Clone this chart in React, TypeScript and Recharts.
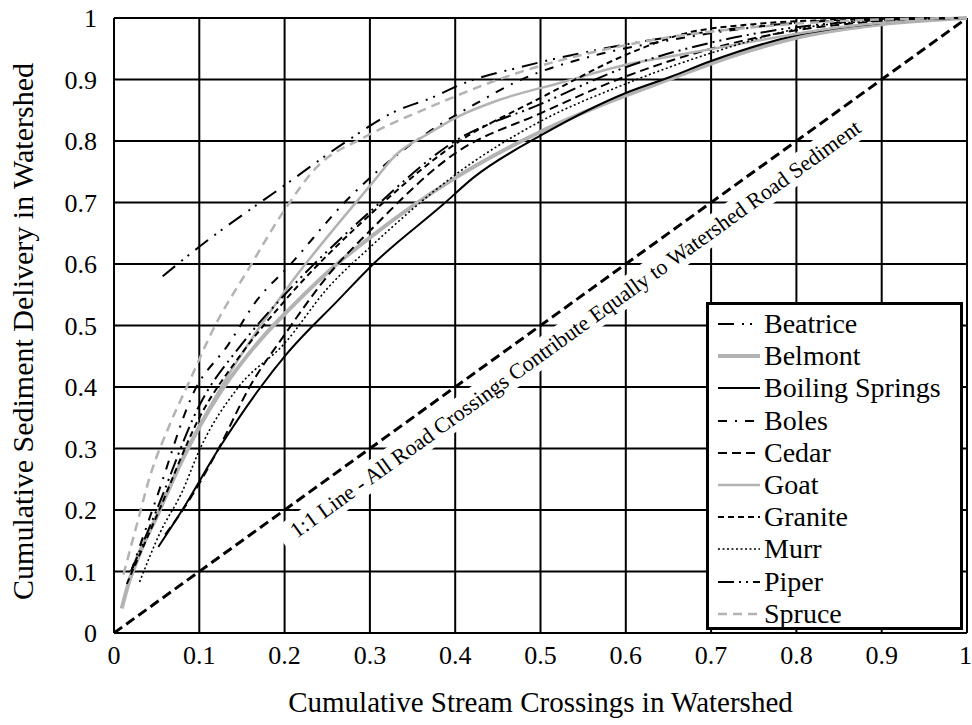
import React from "react";
import {
    LineChart,
    Line,
    XAxis,
    YAxis,
    CartesianGrid,
    ReferenceLine,
    Legend,
} from "recharts";

// axis ticks, both axes 0..1 in steps of 0.1
const xTicks = [0, 0.1, 0.2, 0.3, 0.4, 0.5, 0.6, 0.7, 0.8, 0.9, 1];
const yTicks = [0, 0.1, 0.2, 0.3, 0.4, 0.5, 0.6, 0.7, 0.8, 0.9, 1];

// cumulative stream crossings (x) vs cumulative sediment delivery (y)
const beatrice = [
    [0.057, 0.58], [0.1, 0.628], [0.2, 0.728], [0.27, 0.797], [0.331, 0.849],
    [0.37, 0.869], [0.414, 0.896], [0.476, 0.92], [0.566, 0.948], [0.652, 0.969],
    [0.75, 0.986], [0.85, 0.996], [1, 1],
];
const belmont = [
    [0.009, 0.04], [0.019, 0.09], [0.052, 0.195], [0.082, 0.287], [0.1, 0.335],
    [0.124, 0.39], [0.15, 0.44], [0.175, 0.482], [0.206, 0.527], [0.253, 0.59],
    [0.3, 0.643], [0.4, 0.74], [0.5, 0.815], [0.55, 0.846], [0.6, 0.874],
    [0.65, 0.9], [0.7, 0.926], [0.75, 0.949], [0.8, 0.968], [0.9, 0.99], [1, 1],
];
const boilingSprings = [
    [0.052, 0.14], [0.08, 0.2], [0.123, 0.3], [0.172, 0.4], [0.202, 0.453],
    [0.262, 0.54], [0.304, 0.6], [0.386, 0.697], [0.421, 0.74], [0.503, 0.811],
    [0.6, 0.878], [0.652, 0.904], [0.7, 0.93], [0.8, 0.972], [0.9, 0.992], [1, 1],
];
const boles = [
    [0.02, 0.1], [0.05, 0.22], [0.093, 0.39], [0.134, 0.469], [0.168, 0.542],
    [0.204, 0.595], [0.273, 0.704], [0.3, 0.74], [0.386, 0.83], [0.417, 0.855],
    [0.476, 0.899], [0.566, 0.94], [0.652, 0.964], [0.75, 0.985], [0.85, 0.996], [1, 1],
];
const cedar = [
    [0.06, 0.16], [0.083, 0.205], [0.122, 0.298], [0.159, 0.4], [0.2, 0.485],
    [0.253, 0.585], [0.3, 0.654], [0.4, 0.78], [0.5, 0.845], [0.6, 0.905],
    [0.7, 0.95], [0.8, 0.98], [0.9, 0.995], [1, 1],
];
const goat = [
    [0.012, 0.06], [0.04, 0.16], [0.086, 0.3], [0.13, 0.41], [0.172, 0.5],
    [0.21, 0.574], [0.253, 0.649], [0.3, 0.727], [0.331, 0.778], [0.37, 0.813],
    [0.401, 0.838], [0.448, 0.865], [0.527, 0.896], [0.6, 0.924], [0.65, 0.937],
    [0.75, 0.962], [0.85, 0.985], [1, 1],
];
const granite = [
    [0.015, 0.08], [0.05, 0.19], [0.1, 0.35], [0.15, 0.455], [0.2, 0.54],
    [0.3, 0.68], [0.4, 0.795], [0.5, 0.87], [0.6, 0.94], [0.67, 0.975],
    [0.75, 0.99], [0.85, 0.997], [1, 1],
];
const murr = [
    [0.03, 0.083], [0.054, 0.163], [0.08, 0.23], [0.101, 0.3], [0.146, 0.4],
    [0.2, 0.471], [0.25, 0.56], [0.3, 0.627], [0.4, 0.745], [0.5, 0.832],
    [0.6, 0.893], [0.7, 0.943], [0.8, 0.982], [0.9, 0.996], [1, 1],
];
const piper = [
    [0.02, 0.1], [0.05, 0.2], [0.1, 0.37], [0.15, 0.47], [0.2, 0.55],
    [0.3, 0.685], [0.4, 0.8], [0.5, 0.86], [0.6, 0.92], [0.7, 0.96],
    [0.8, 0.985], [0.9, 0.997], [1, 1],
];
const spruce = [
    [0.011, 0.095], [0.025, 0.167], [0.042, 0.254], [0.066, 0.341], [0.089, 0.411],
    [0.116, 0.493], [0.159, 0.595], [0.2, 0.688], [0.238, 0.758], [0.292, 0.805],
    [0.37, 0.855], [0.476, 0.912], [0.573, 0.948], [0.652, 0.969], [0.75, 0.985],
    [0.85, 0.995], [1, 1],
];
const oneToOne = [[0, 0], [1, 1]];

const FONT = '"Liberation Serif", "Times New Roman", Times, serif';
const GREY = "#b3b3b3";

const toPts = (arr: number[][]) => arr.map(([x, y]) => ({ x, y }));

const series = [
    { name: "Beatrice", data: beatrice, color: "#000", width: 2, dash: "16 8 2 6 2 8" },
    { name: "Belmont", data: belmont, color: GREY, width: 4, dash: undefined },
    { name: "Boiling Springs", data: boilingSprings, color: "#000", width: 2, dash: undefined },
    { name: "Boles", data: boles, color: "#000", width: 2, dash: "9 8 2 8" },
    { name: "Cedar", data: cedar, color: "#000", width: 2, dash: "9 5" },
    { name: "Goat", data: goat, color: GREY, width: 2.5, dash: undefined },
    { name: "Granite", data: granite, color: "#000", width: 2, dash: "6 4" },
    { name: "Murr", data: murr, color: "#000", width: 1.6, dash: "2 2.5" },
    { name: "Piper", data: piper, color: "#000", width: 2, dash: "16 5 2 5 2 5" },
    { name: "Spruce", data: spruce, color: GREY, width: 2.5, dash: "9 6" },
];

const fmt = (v: number) => (v === 0 || v === 1 ? String(v) : v.toFixed(1));

const LegendBox = () => (
    <div
        style={{
            width: 251,
            height: 319,
            border: "3px solid #000",
            background: "#fff",
            fontFamily: FONT,
            fontSize: 28,
            color: "#000",
            paddingTop: 3,
            boxSizing: "content-box",
        }}
    >
        {series.map((s) => (
            <div key={s.name} style={{ height: 32.2, display: "flex", alignItems: "center" }}>
                <svg width={55} height={20} style={{ flex: "none" }}>
                    <line
                        x1={9}
                        x2={51}
                        y1={10}
                        y2={10}
                        stroke={s.color}
                        strokeWidth={s.width}
                        strokeDasharray={s.dash}
                    />
                </svg>
                <span style={{ lineHeight: "28px", whiteSpace: "nowrap" }}>{s.name}</span>
            </div>
        ))}
    </div>
);

// rotated caption with white backing along the 1:1 line
const DiagonalLabel = (props: any) => {
    const vb = props.viewBox || {};
    let x0 = vb.x, y0 = vb.y, w = vb.width, h = vb.height;
    if (vb.x1 !== undefined) {
        x0 = Math.min(vb.x1, vb.x2);
        y0 = Math.min(vb.y1, vb.y2);
        w = Math.abs(vb.x2 - vb.x1);
        h = Math.abs(vb.y2 - vb.y1);
    }
    const rad = Math.atan2(h, w);
    const t = 0.525;
    const off = 23;
    const cx = x0 + w * t + off * Math.sin(rad);
    const cy = y0 + h * (1 - t) + off * Math.cos(rad);
    return (
        <g transform={`translate(${cx},${cy}) rotate(${(-rad * 180) / Math.PI})`}>
            <rect x={-362} y={-14} width={724} height={28} fill="#fff" />
            <text
                x={0}
                y={0}
                textAnchor="middle"
                dominantBaseline="central"
                fontFamily={FONT}
                fontSize={22}
                fill="#000"
            >
                1:1 Line - All Road Crossings Contribute Equally to Watershed Road Sediment
            </text>
        </g>
    );
};

const YTitle = (props: any) => {
    const vb = props.viewBox;
    const x = vb.x + 22;
    const y = vb.y + vb.height / 2 + 6;
    return (
        <text
            x={x}
            y={y}
            transform={`rotate(-90 ${x} ${y})`}
            textAnchor="middle"
            dominantBaseline="central"
            fontFamily={FONT}
            fontSize={30}
            fill="#000"
        >
            Cumulative Sediment Delivery in Watershed
        </text>
    );
};

const XTitle = (props: any) => {
    const vb = props.viewBox;
    return (
        <text
            x={vb.x + vb.width / 2}
            y={vb.y + vb.height - 13}
            textAnchor="middle"
            fontFamily={FONT}
            fontSize={29}
            fill="#000"
        >
            Cumulative Stream Crossings in Watershed
        </text>
    );
};

const App = () => {
    const tickStyle = { fill: "#000", fontSize: 26, fontFamily: FONT };
    return (
        <div style={{ position: "absolute", left: 0, top: 0, background: "#fff" }}>
            <LineChart
                width={972}
                height={725}
                margin={{ top: 18, right: 5, left: 0, bottom: 0 }}
                style={{ fontFamily: FONT }}
            >
                <CartesianGrid stroke="#000" strokeWidth={2} />
                <XAxis
                    type="number"
                    dataKey="x"
                    domain={[0, 1]}
                    ticks={xTicks}
                    tickFormatter={fmt}
                    height={92}
                    tickSize={0}
                    tickMargin={13}
                    tick={tickStyle}
                    axisLine={{ stroke: "#000", strokeWidth: 2 }}
                    label={XTitle}
                    allowDuplicatedCategory={false}
                />
                <YAxis
                    type="number"
                    dataKey="y"
                    domain={[0, 1]}
                    ticks={yTicks}
                    tickFormatter={fmt}
                    width={114}
                    tickSize={0}
                    tickMargin={17}
                    tick={tickStyle}
                    axisLine={{ stroke: "#000", strokeWidth: 2 }}
                    label={YTitle}
                />
                <ReferenceLine
                    segment={toPts(oneToOne)}
                    stroke="#000"
                    strokeWidth={3}
                    strokeDasharray="10 5"
                    label={DiagonalLabel}
                />
                {series.map((s) => (
                    <Line
                        key={s.name}
                        name={s.name}
                        data={toPts(s.data)}
                        dataKey="y"
                        type="monotone"
                        stroke={s.color}
                        strokeWidth={s.width}
                        strokeDasharray={s.dash}
                        dot={false}
                        activeDot={false}
                        isAnimationActive={false}
                    />
                ))}
                <Legend
                    layout="vertical"
                    align="center"
                    verticalAlign="middle"
                    content={() => <LegendBox />}
                    wrapperStyle={{ left: 706, top: 302, width: 257, height: 325 }}
                />
            </LineChart>
        </div>
    );
};

export default App;
